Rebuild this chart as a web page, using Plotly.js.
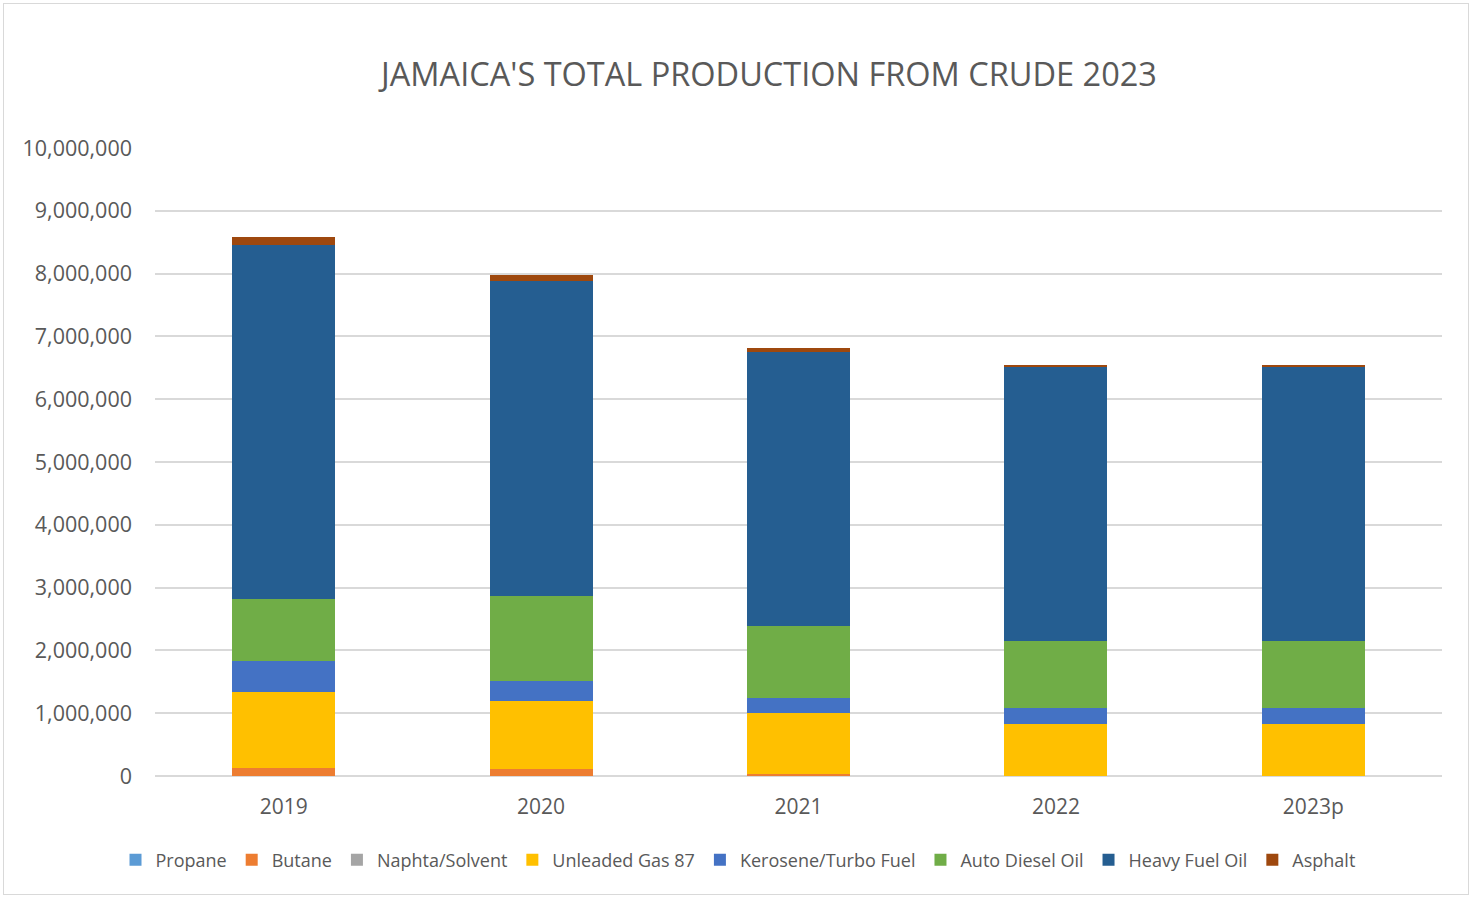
<!DOCTYPE html>
<html>
<head>
<meta charset="utf-8">
<script src="https://cdn.plot.ly/plotly-3.0.1.min.js"></script>
<style>
  html, body { margin: 0; padding: 0; background: #fff; }
  #wrap { position: relative; width: 1473px; height: 898px; }
  #chart { width: 1473px; height: 898px; }
  #frame { position: absolute; left: 3px; top: 3px; width: 1466px; height: 892px; border: 1px solid #d9d9d9; box-sizing: border-box; pointer-events: none; }
</style>
</head>
<body>
<div id="wrap">
  <div id="chart"></div>
  <div id="frame"></div>
</div>
<script>
const years = ["2019", "2020", "2021", "2022", "2023p"];

const propane   = [0, 0, 0, 0, 0];
const butane    = [120000, 104000, 35000, 8000, 8000];
const naphta    = [0, 0, 0, 0, 0];
const unleaded  = [1225000, 1098000, 965000, 823000, 823000];
const kerosene  = [490000, 303000, 245000, 249000, 249000];
const diesel    = [976000, 1369000, 1140000, 1062000, 1062000];
const heavyFuel = [5650000, 5016000, 4363000, 4363000, 4363000];
const asphalt   = [123000, 85000, 64000, 43000, 43000];

const seriesNames  = ["Propane", "Butane", "Naphta/Solvent", "Unleaded Gas 87", "Kerosene/Turbo Fuel", "Auto Diesel Oil", "Heavy Fuel Oil", "Asphalt"];
const seriesValues = [propane, butane, naphta, unleaded, kerosene, diesel, heavyFuel, asphalt];
const seriesColors = ["#5b9bd5", "#ed7d31", "#a5a5a5", "#ffc000", "#4472c4", "#70ad47", "#255e91", "#9e480e"];

const traces = seriesNames.map((name, i) => ({
  type: "bar",
  name: name,
  x: years,
  y: seriesValues[i],
  marker: { color: seriesColors[i], line: { width: 0 } },
  hovertemplate: "%{x}<br>" + name + ": %{y:,}<extra></extra>"
}));

const font = "'Open Sans', 'Noto Sans', sans-serif";

const layout = {
  width: 1473,
  height: 898,
  barmode: "stack",
  bargap: 0.6,
  paper_bgcolor: "#ffffff",
  plot_bgcolor: "#ffffff",
  margin: { l: 155, r: 31, t: 148, b: 122, pad: 0 },
  title: {
    text: "JAMAICA'S TOTAL PRODUCTION FROM CRUDE 2023",
    font: { family: font, size: 32.5, color: "#595959" },
    x: 769 / 1473, xanchor: "center",
    y: 1 - 75 / 898, yanchor: "middle"
  },
  xaxis: {
    type: "category",
    tickfont: { family: font, size: 21, color: "#595959" },
    showgrid: false,
    showline: false,
    ticks: "",
    ticklabelstandoff: 16
  },
  yaxis: {
    range: [0, 10000000],
    autorange: false,
    dtick: 1000000,
    tick0: 0,
    tickformat: ",d",
    tickfont: { family: font, size: 21.5, color: "#595959" },
    gridcolor: "#d9d9d9",
    gridwidth: 2,
    zeroline: true,
    zerolinecolor: "#d9d9d9",
    zerolinewidth: 2,
    showline: false,
    ticks: "",
    ticklabelstandoff: 22
  },
  legend: {
    orientation: "h",
    x: 0.453, xanchor: "center",
    y: -(860 - 776) / 628, yanchor: "middle",
    font: { family: font, size: 18, color: "#595959" },
    traceorder: "normal",
    itemwidth: 30,
    itemclick: false
  },
  showlegend: true
};

Plotly.newPlot("chart", traces, layout, { displayModeBar: false });
</script>
</body>
</html>
